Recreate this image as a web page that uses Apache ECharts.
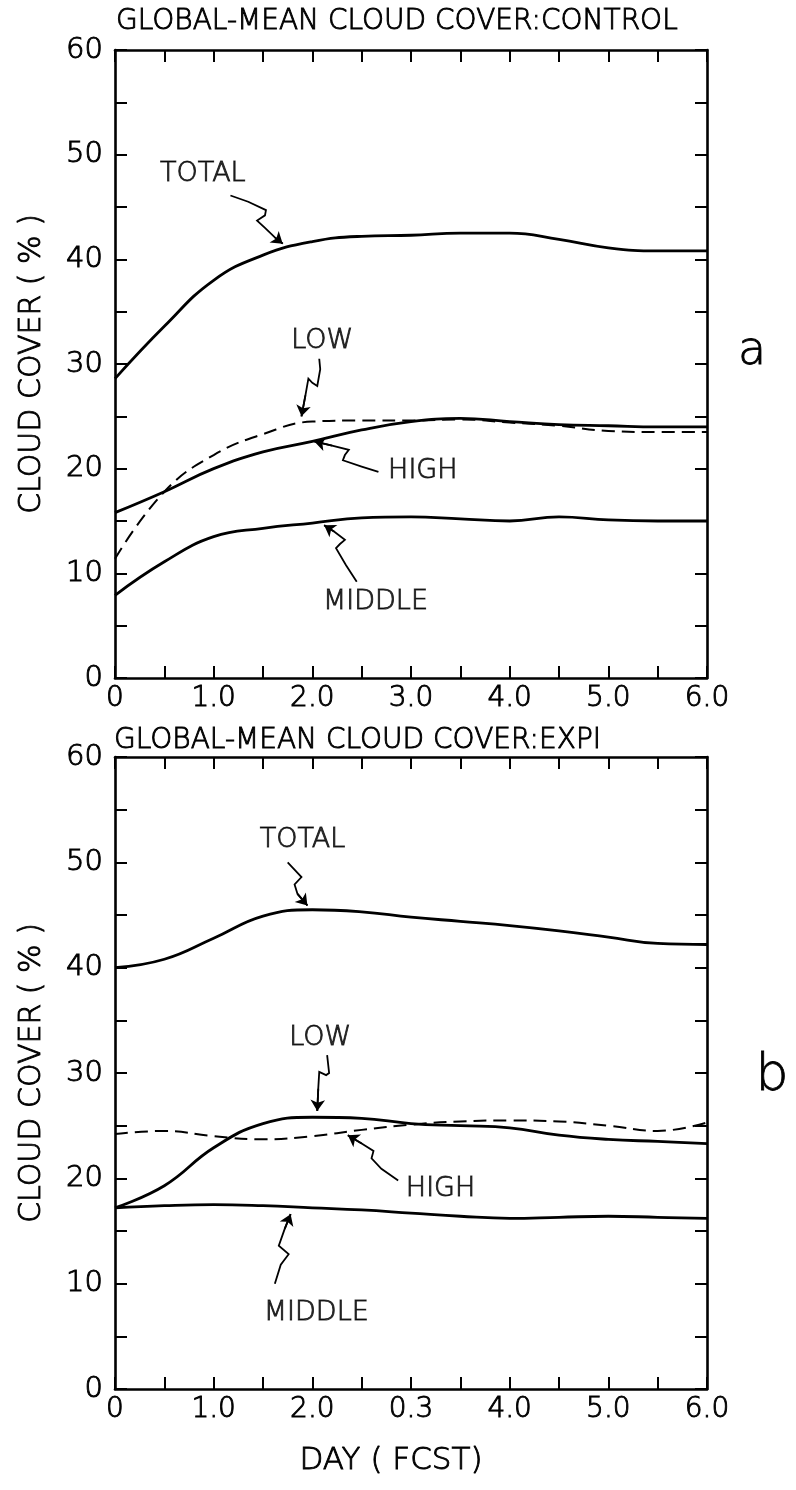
<!DOCTYPE html>
<html><head><meta charset="utf-8">
<script src="https://cdn.jsdelivr.net/npm/echarts@6/dist/echarts.min.js"></script>
<style>html,body{margin:0;padding:0;background:#fff}#c{width:796px;height:1490px}</style>
</head><body><div id="c"></div>
<script>
// ---- data ----
const days = [0,0.5,1,1.5,2,2.5,3,3.5,4,4.5,5,5.5,6];
// panel a: control
const totalA  = [28.6,33.6,38.0,40.4,41.7,42.2,42.3,42.5,42.5,41.9,41.1,40.8,40.8];
const lowA    = [11.4,17.8,21.3,23.3,24.5,24.6,24.6,24.7,24.4,24.1,23.6,23.5,23.5];
const highA   = [15.8,17.8,20.0,21.6,22.6,23.7,24.5,24.8,24.5,24.2,24.1,24.0,24.0];
const middleA = [7.9,11.1,13.5,14.3,14.8,15.3,15.4,15.2,15.0,15.4,15.1,15.0,15.0];
// panel b: EXPI
const totalB  = [40.0,40.8,42.8,44.9,45.5,45.3,44.8,44.4,44.0,43.5,42.9,42.3,42.2];
const lowB    = [17.2,19.3,22.9,25.2,25.8,25.7,25.2,25.0,24.8,24.1,23.7,23.5,23.3];
const highB   = [24.2,24.5,24.0,23.7,24.0,24.6,25.1,25.4,25.5,25.4,25.0,24.5,25.3];
const middleB = [17.2,17.4,17.5,17.4,17.2,17.0,16.7,16.4,16.2,16.3,16.4,16.3,16.2];

const xTickLabelsA = ['0','1.0','2.0','3.0','4.0','5.0','6.0'];
const xTickLabelsB = ['0','1.0','2.0','0.3','4.0','5.0','6.0'];
const yTickLabels  = ['0','10','20','30','40','50','60'];

const titleA = 'GLOBAL-MEAN CLOUD COVER:CONTROL';
const titleB = 'GLOBAL-MEAN CLOUD COVER:EXPI';

// annotation labels [text, day, value]
const annotTextA = [['TOTAL',0.89,48.2],['LOW',2.1,32.2],['HIGH',3.12,19.8],['MIDDLE',2.64,7.3]];
const annotTextB = [['TOTAL',1.9,52.1],['LOW',2.08,33.3],['HIGH',3.3,19.0],['MIDDLE',2.04,7.2]];
// annotation arrows (day, value)
const arrowsA = [
  [[1.17,46.1],[1.35,45.5],[1.53,44.7],[1.52,44.2],[1.44,43.7],[1.52,43.0],[1.62,42.1],[1.70,41.5]],
  [[2.07,30.5],[2.08,29.5],[2.05,27.9],[2.0,28.2],[1.96,28.6],[1.93,27.0],[1.89,25.0]],
  [[2.67,19.7],[2.5,20.2],[2.31,20.8],[2.33,21.3],[2.37,21.8],[2.2,22.2],[2.02,22.6]],
  [[2.45,9.2],[2.34,10.8],[2.24,12.4],[2.28,12.8],[2.33,13.2],[2.22,14.0],[2.12,14.6]]
];
const arrowsB = [
  [[1.75,50.0],[1.85,49.0],[1.89,48.6],[1.82,47.9],[1.85,47.0],[1.95,45.9]],
  [[2.15,31.7],[2.17,30.0],[2.14,29.8],[2.07,30.1],[2.06,28.5],[2.05,26.4]],
  [[2.87,19.8],[2.7,20.9],[2.6,21.9],[2.62,22.6],[2.5,23.3],[2.36,24.1]],
  [[1.62,10.0],[1.68,11.8],[1.76,12.8],[1.66,13.6],[1.72,15.2],[1.78,16.6]]
];

// ---- chart ----
const FONT = '"DejaVu Sans", sans-serif';
const INK = '#000';
const TXT = {color:INK, fontFamily:FONT, fontWeight:200, textBorderColor:INK, textBorderWidth:0.9};
const chart = echarts.init(document.getElementById('c'), null, {renderer:'canvas'});

function xAxisPair(gi, labels, withName) {
  const base = {gridIndex:gi, type:'value', min:0, max:6, interval:0.5,
    axisLine:{show:true, onZero:false, lineStyle:{color:INK, width:2.6}},
    axisTick:{show:true, inside:true, length:12, lineStyle:{color:INK, width:2}},
    splitLine:{show:false}};
  const bottom = Object.assign({}, base, {position:'bottom',
    axisLabel:Object.assign({show:true, margin:7, fontSize:28,
      formatter: v => { const i = Math.round(v); return Math.abs(v - i) < 1e-6 ? labels[i] : ''; }}, TXT)});
  if (withName) {
    Object.assign(bottom, {name:'DAY ( FCST)', nameLocation:'middle', nameGap:56,
      nameTextStyle:Object.assign({fontSize:31, padding:[0,40,0,0]}, TXT)});
  }
  const top = Object.assign({}, base, {position:'top', axisLabel:{show:false}});
  return [bottom, top];
}
function yAxisPair(gi) {
  const base = {gridIndex:gi, type:'value', min:0, max:60, interval:5,
    axisLine:{show:true, onZero:false, lineStyle:{color:INK, width:2.6}},
    axisTick:{show:true, inside:true, length:12, lineStyle:{color:INK, width:2}},
    splitLine:{show:false}};
  const left = Object.assign({}, base, {position:'left',
    name:'CLOUD COVER ( % )', nameLocation:'middle', nameGap:68, nameRotate:90,
    nameTextStyle:Object.assign({fontSize:30}, TXT),
    axisLabel:Object.assign({show:true, margin:12, fontSize:29,
      formatter: v => (v % 10 === 0 ? yTickLabels[v/10] : '')}, TXT)});
  const right = Object.assign({}, base, {position:'right', axisLabel:{show:false}});
  return [left, right];
}

function curve(gi, vals, dashed) {
  return {type:'line', xAxisIndex:gi*2, yAxisIndex:gi*2, smooth:0.45,
    showSymbol:false, symbol:'none', silent:true,
    data: days.map((d,i)=>[d, vals[i]]),
    lineStyle:{color:INK, width: dashed ? 2 : 2.8, type: dashed ? [13,7] : 'solid'}};
}
function labels(gi, arr) {
  return {type:'scatter', xAxisIndex:gi*2, yAxisIndex:gi*2, symbolSize:0, silent:true,
    data: arr.map(a=>({value:[a[1], a[2]], name:a[0]})),
    label:Object.assign({show:true, position:'inside', formatter: p => p.name, fontSize:27}, TXT)};
}
function arrowBodies(gi, arr) {
  return {type:'lines', coordinateSystem:'cartesian2d', xAxisIndex:gi*2, yAxisIndex:gi*2,
    polyline:true, silent:true,
    lineStyle:{color:INK, width:1.8, opacity:1},
    data: arr.map(c=>({coords:c}))};
}
function arrowHeads(gi, arr) {
  return {type:'lines', coordinateSystem:'cartesian2d', xAxisIndex:gi*2, yAxisIndex:gi*2,
    polyline:false, silent:true, symbol:['none','arrow'], symbolSize:[1,11],
    lineStyle:{color:INK, width:1.8, opacity:1, curveness:0},
    data: arr.map(c=>({coords:[c[c.length-2], c[c.length-1]]}))};
}

const [xa0, xa1] = xAxisPair(0, xTickLabelsA, false);
const [xb0, xb1] = xAxisPair(1, xTickLabelsB, true);
const [ya0, ya1] = yAxisPair(0);
const [yb0, yb1] = yAxisPair(1);

const gfont = (w, s) => w + ' ' + s + 'px "DejaVu Sans", sans-serif';
chart.setOption({
  animation:false,
  backgroundColor:'#fff',
  grid:[
    {left:115, top:50, width:592, height:628},
    {left:115, top:757, width:592, height:632}
  ],
  xAxis:[xa0, xa1, xb0, xb1],
  yAxis:[ya0, ya1, yb0, yb1],
  series:[
    curve(0,totalA,false), curve(0,lowA,true), curve(0,highA,false), curve(0,middleA,false),
    curve(1,totalB,false), curve(1,lowB,false), curve(1,highB,true), curve(1,middleB,false),
    labels(0, annotTextA), labels(1, annotTextB),
    arrowBodies(0, arrowsA), arrowBodies(1, arrowsB),
    arrowHeads(0, arrowsA), arrowHeads(1, arrowsB)
  ],
  graphic:[
    {type:'text', x:116, y:22, style:{text:titleA, fill:INK, stroke:INK, lineWidth:0.9, font:gfont(200,28), textVerticalAlign:'middle'}},
    {type:'text', x:114, y:741, style:{text:titleB, fill:INK, stroke:INK, lineWidth:0.9, font:gfont(200,28), textVerticalAlign:'middle'}},
    {type:'text', x:752, y:352, style:{text:'a', fill:INK, stroke:INK, lineWidth:0.8, font:gfont(200,46), textAlign:'center', textVerticalAlign:'middle'}},
    {type:'text', x:772, y:1076, style:{text:'b', fill:INK, stroke:INK, lineWidth:0.8, font:gfont(200,52), textAlign:'center', textVerticalAlign:'middle'}}
  ]
});
</script></body></html>
